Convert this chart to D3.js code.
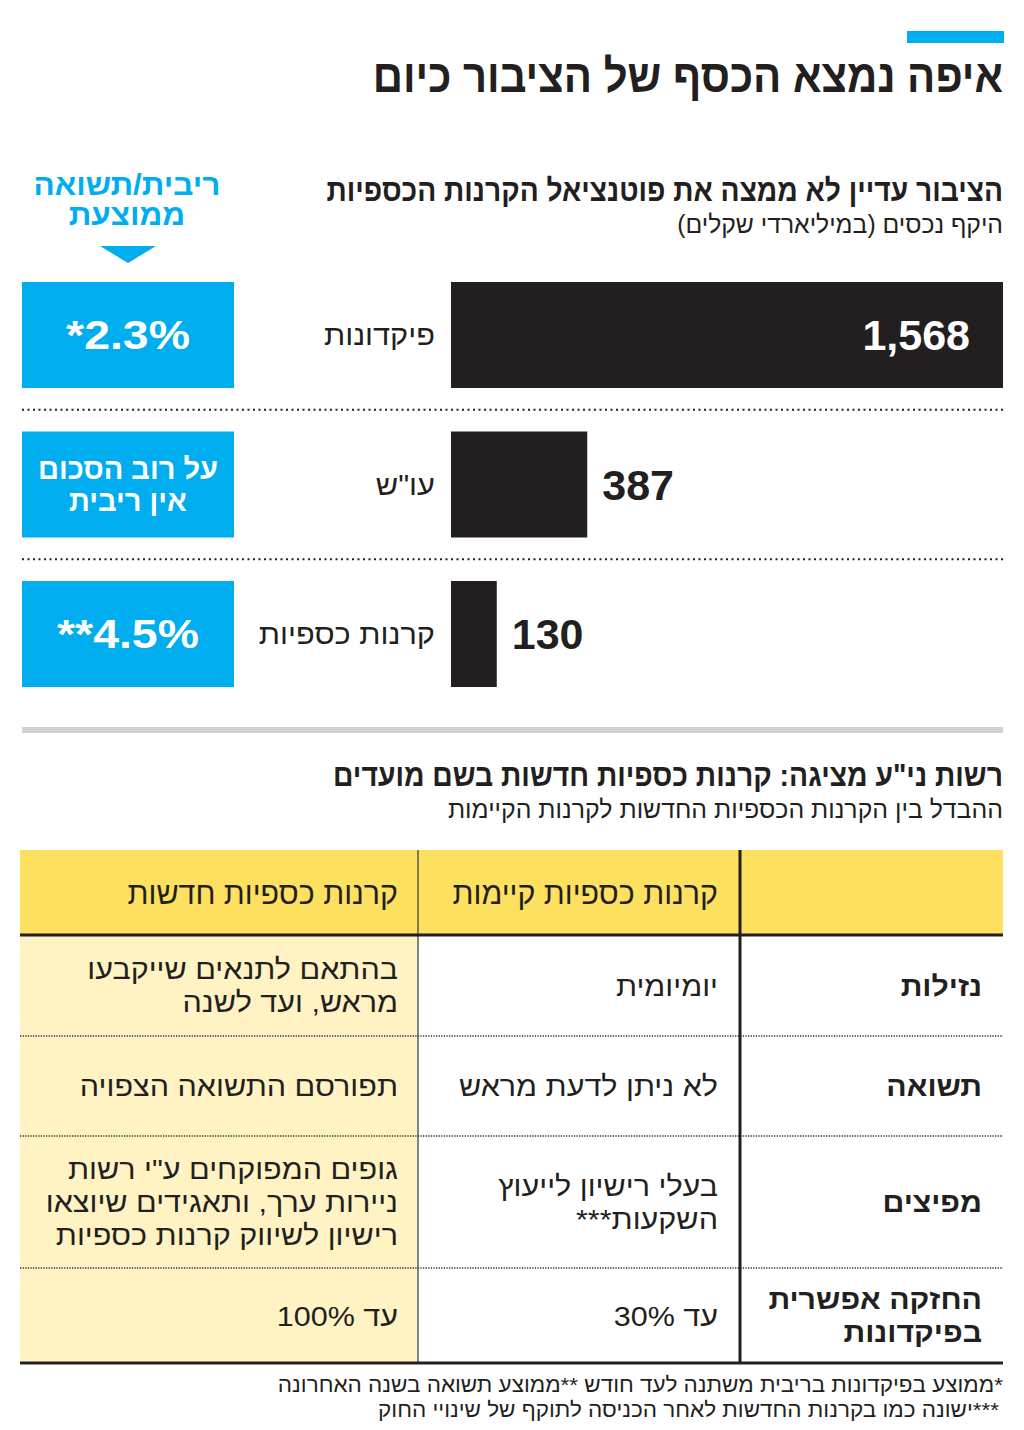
<!DOCTYPE html>
<html><head><meta charset="utf-8">
<script src="https://cdn.jsdelivr.net/npm/d3@7"></script>
<style>
html,body{margin:0;padding:0;background:#fff;}
svg text{font-family:"Liberation Sans","DejaVu Sans",sans-serif;}
</style></head>
<body><svg id="c" width="1024" height="1430"></svg>
<script>
// ---------- DATA ----------
const mainTitle = "איפה נמצא הכסף של הציבור כיום";
const barTitle = "הציבור עדיין לא ממצה את פוטנציאל הקרנות הכספיות";
const barSubtitle = "היקף נכסים (במיליארדי שקלים)";
const rateHeader = ["ריבית/תשואה", "ממוצעת"];
const barCategories = ["פיקדונות", "עו\"ש", "קרנות כספיות"];
const barValues = [1568, 387, 130];
const rateLabels = [["*2.3%"], ["על רוב הסכום", "אין ריבית"], ["**4.5%"]];

const tableTitle = "רשות ני\"ע מציגה: קרנות כספיות חדשות בשם מועדים";
const tableSubtitle = "ההבדל בין הקרנות הכספיות החדשות לקרנות הקיימות";
const tableColumns = ["", "קרנות כספיות קיימות", "קרנות כספיות חדשות"];
const tableRowLabels = [["נזילות"], ["תשואה"], ["מפיצים"], ["החזקה אפשרית", "בפיקדונות"]];
const existingFunds = [["יומיומית"], ["לא ניתן לדעת מראש"], ["בעלי רישיון לייעוץ", "השקעות***"], ["עד 30%"]];
const newFunds = [["בהתאם לתנאים שייקבעו", "מראש, ועד לשנה"], ["תפורסם התשואה הצפויה"],
  ["גופים המפוקחים ע\"י רשות", "ניירות ערך, ותאגידים שיוצאו", "רישיון לשיווק קרנות כספיות"], ["עד 100%"]];
const footnotes = ["*ממוצע בפיקדונות בריבית משתנה לעד חודש **ממוצע תשואה בשנה האחרונה",
  "***ישונה כמו בקרנות החדשות לאחר הכניסה לתוקף של שינויי החוק"];

// ---------- STYLE / LAYOUT ----------
const C = {blue:"#00adee", ink:"#231f20", yellow:"#fde05f", paleYellow:"#fff3c4", gray:"#d2d2d2"};
const L = {left:22, right:1003};
const tableRowHeights = [101, 100, 132, 95];

const svg = d3.select("#c");

function txt(g, x, y, s, o) {
  const sq = o.squeeze || 1;
  const holder = sq < 1 ? g.append("g").attr("transform", `translate(${x},${y}) scale(${sq},1)`) : g;
  const t = holder.append("text").attr("x", sq < 1 ? 0 : x).attr("y", sq < 1 ? 0 : y).text(s)
    .attr("direction", o.dir || "rtl")
    .attr("text-anchor", o.anchor || "start")
    .attr("font-size", o.size).attr("font-weight", o.bold ? 700 : 400)
    .attr("fill", o.fill || C.ink);
  if (sq > 1) {
    const w = t.node().getComputedTextLength();
    t.attr("textLength", w * sq).attr("lengthAdjust", "spacingAndGlyphs");
  }
  return t;
}

// top accent
svg.append("rect").attr("x", 907).attr("y", 31).attr("width", 97).attr("height", 12).attr("fill", C.blue);
txt(svg, L.right, 92, mainTitle, {size:46, bold:true, squeeze:0.91});

// bar section headers
txt(svg, L.right, 201, barTitle, {size:31, bold:true, squeeze:0.91});
txt(svg, L.right, 233, barSubtitle, {size:25, squeeze:0.99});
rateHeader.forEach((s, i) => txt(svg, 127, 195 + i * 30, s, {size:30, bold:true, fill:C.blue, anchor:"middle", squeeze:1.05}));
svg.append("path").attr("d", "M100,246 L156,246 L128,263 Z").attr("fill", C.blue);

// bars
const x = d3.scaleLinear().domain([0, d3.max(barValues)]).range([451, L.right]);
const y = d3.scaleBand().domain(barCategories).range([282, 687]).paddingInner(0.291).paddingOuter(0);
const fmt = d3.format(",");
const bars = svg.append("g");
barCategories.forEach((cat, i) => {
  const y0 = y(cat), bw = y.bandwidth(), cy = y0 + bw / 2;
  bars.append("rect").attr("x", x(0)).attr("y", y0).attr("width", x(barValues[i]) - x(0)).attr("height", bw).attr("fill", C.ink);
  const inside = x(barValues[i]) - x(0) > 200;
  if (inside) txt(bars, x(barValues[i]) - 33, cy + 15, fmt(barValues[i]), {size:43, bold:true, fill:"#fff", dir:"ltr", anchor:"end"});
  else txt(bars, x(barValues[i]) + 15, cy + 15, fmt(barValues[i]), {size:43, bold:true, dir:"ltr", anchor:"start"});
  txt(bars, 435, cy + 10, cat, {size:29, squeeze:1.06});
  bars.append("rect").attr("x", L.left).attr("y", y0).attr("width", 212).attr("height", bw).attr("fill", C.blue);
  const lines = rateLabels[i];
  lines.forEach((s, j) => {
    const isNum = /\d/.test(s);
    txt(bars, 128, cy + (j - (lines.length - 1) / 2) * 32 + (isNum ? 14 : 10), s,
      {size: isNum ? 40 : 29, bold:true, fill:"#fff", anchor:"middle", dir: isNum ? "ltr" : "rtl", squeeze: isNum ? 1.16 : 1.0});
  });
  if (i < barCategories.length - 1) {
    const ly = y0 + bw + (y.step() - bw) / 2;
    bars.append("line").attr("x1", L.left).attr("x2", L.right).attr("y1", ly).attr("y2", ly)
      .attr("stroke", C.ink).attr("stroke-width", 2).attr("stroke-dasharray", "2,3.5");
  }
});

// divider
svg.append("rect").attr("x", L.left).attr("y", 727).attr("width", L.right - L.left).attr("height", 6).attr("fill", C.gray);

// table section headers
txt(svg, L.right, 786, tableTitle, {size:31, bold:true, squeeze:0.914});
txt(svg, L.right, 818, tableSubtitle, {size:25, squeeze:0.995});

// table
const tx0 = 20, tx1 = L.right;
const colX = [740, 418];           // dividing lines (right col | middle col | left col)
const textRight = [982, 718, 398];
const headTop = 850, headBottom = 935;
const rowTops = [headBottom];
tableRowHeights.forEach(h => rowTops.push(rowTops[rowTops.length - 1] + h));
const tableBottom = rowTops[rowTops.length - 1];
const tg = svg.append("g");
tg.append("rect").attr("x", tx0).attr("y", headTop).attr("width", tx1 - tx0).attr("height", headBottom - headTop).attr("fill", C.yellow);
tg.append("rect").attr("x", tx0).attr("y", headBottom).attr("width", colX[1] - tx0).attr("height", tableBottom - headBottom).attr("fill", C.paleYellow);
rowTops.slice(1, -1).forEach(ry => {
  tg.append("line").attr("x1", tx0).attr("x2", tx1).attr("y1", ry).attr("y2", ry)
    .attr("stroke", "#333").attr("stroke-width", 1.6).attr("stroke-dasharray", "1.3,1.3");
});
tableColumns.forEach((s, i) => { if (s) txt(tg, textRight[i], headTop + (headBottom - headTop) / 2 + 11, s, {size:31, squeeze:0.98}); });
const columns = [tableRowLabels, existingFunds, newFunds];
columns.forEach((col, ci) => {
  col.forEach((lines, ri) => {
    const cy = (rowTops[ri] + rowTops[ri + 1]) / 2;
    lines.forEach((s, j) => {
      txt(tg, textRight[ci], cy + (j - (lines.length - 1) / 2) * 33 + 10, s,
        {size:28, bold: ci === 0, squeeze: ci === 0 ? 1.08 : 1.09});
    });
  });
});
tg.append("line").attr("x1", colX[1]).attr("x2", colX[1]).attr("y1", headTop).attr("y2", tableBottom).attr("stroke", "#444").attr("stroke-width", 1.3);
tg.append("line").attr("x1", colX[0]).attr("x2", colX[0]).attr("y1", headTop).attr("y2", tableBottom).attr("stroke", C.ink).attr("stroke-width", 3);
[headBottom, tableBottom].forEach(ly => tg.append("line").attr("x1", tx0).attr("x2", tx1).attr("y1", ly).attr("y2", ly).attr("stroke", C.ink).attr("stroke-width", 3));

// footnotes
footnotes.forEach((s, i) => txt(svg, L.right - i * 4, 1392 + i * 25, s, {size:21, squeeze:1.07}));
</script></body></html>
